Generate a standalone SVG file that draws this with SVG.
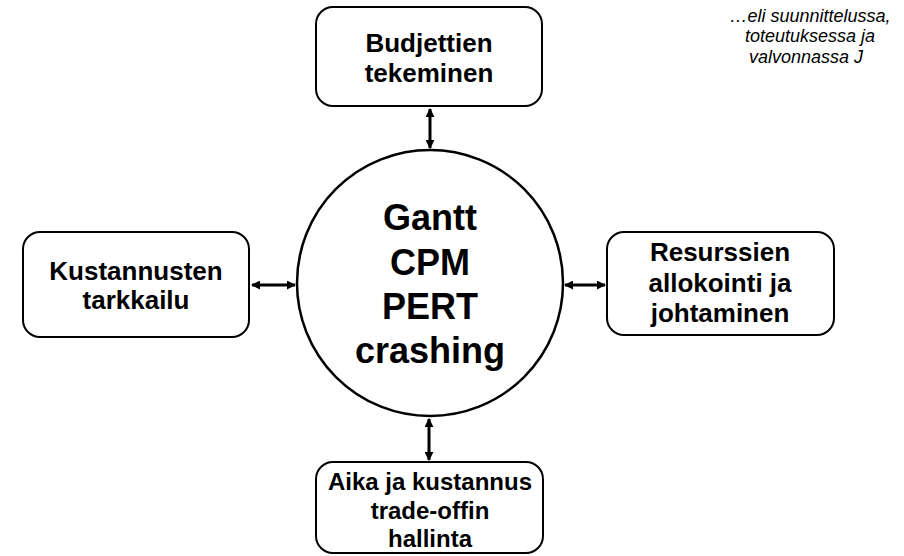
<svg xmlns="http://www.w3.org/2000/svg" width="904" height="556" viewBox="0 0 904 556">
  <style>
    .box { fill: #ffffff; stroke: #000000; stroke-width: 2; }
    .hub { fill: #ffffff; stroke: #000000; stroke-width: 2.5; }
    .lbl { font-family: "Liberation Sans", Arial, sans-serif; font-weight: bold; font-size: 26px; fill: #000000; text-anchor: middle; }
    .big { font-family: "Liberation Sans", Arial, sans-serif; font-weight: bold; font-size: 36px; fill: #000000; text-anchor: middle; }
    .note { font-family: "Liberation Sans", Arial, sans-serif; font-style: italic; font-size: 18px; fill: #000000; text-anchor: middle; }
    .link { stroke: #000000; stroke-width: 3; fill: none; marker-start: url(#head); marker-end: url(#head); }
  </style>
  <defs>
    <marker id="head" viewBox="0 0 10 10" refX="9" refY="5" markerWidth="3" markerHeight="3" orient="auto-start-reverse" markerUnits="strokeWidth">
      <path d="M0,0 L10,5 L0,10 Z" fill="#000000"/>
    </marker>
  </defs>

  <rect width="904" height="556" fill="#ffffff"/>

  <!-- connectors -->
  <g id="connectors">
    <line class="link" x1="430" y1="109" x2="430" y2="148"/>
    <line class="link" x1="429" y1="419" x2="429" y2="460"/>
    <line class="link" x1="252" y1="285" x2="295" y2="285"/>
    <line class="link" x1="565" y1="285" x2="605" y2="285"/>
  </g>

  <!-- central tools -->
  <g id="hub">
    <circle class="hub" cx="430" cy="283" r="133"/>
    <text class="big" x="430" y="230">Gantt</text>
    <text class="big" x="430" y="275">CPM</text>
    <text class="big" x="430" y="319">PERT</text>
    <text class="big" x="430" y="363">crashing</text>
  </g>

  <g id="budget">
    <rect class="box" x="316" y="7" width="226" height="99" rx="17"/>
    <text class="lbl" x="429" y="52">Budjettien</text>
    <text class="lbl" x="429" y="82">tekeminen</text>
  </g>

  <g id="costs">
    <rect class="box" x="23" y="232" width="226" height="105" rx="17"/>
    <text class="lbl" x="136" y="280">Kustannusten</text>
    <text class="lbl" x="136" y="309">tarkkailu</text>
  </g>

  <g id="resources">
    <rect class="box" x="607" y="232" width="227" height="103" rx="17"/>
    <text class="lbl" x="720" y="261">Resurssien</text>
    <text class="lbl" x="720" y="292">allokointi ja</text>
    <text class="lbl" x="720" y="322">johtaminen</text>
  </g>

  <g id="tradeoff">
    <rect class="box" x="316" y="462" width="227" height="91" rx="17"/>
    <text class="lbl" x="430" y="490" style="font-size:24px">Aika ja kustannus</text>
    <text class="lbl" x="430" y="519" style="font-size:24px">trade-offin</text>
    <text class="lbl" x="430" y="547" style="font-size:24px">hallinta</text>
  </g>

  <g id="note">
    <text class="note" x="810" y="22">…eli suunnittelussa,</text>
    <text class="note" x="810" y="42">toteutuksessa ja</text>
    <text class="note" x="806" y="63">valvonnassa J</text>
  </g>
</svg>
